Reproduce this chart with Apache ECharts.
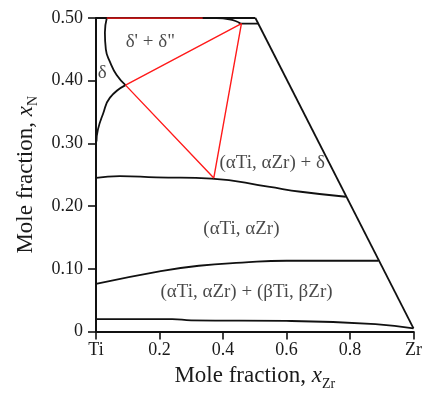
<!DOCTYPE html>
<html>
<head>
<meta charset="utf-8">
<script src="https://cdn.jsdelivr.net/npm/echarts@6/dist/echarts.min.js"></script>
<style>
  html, body { margin: 0; padding: 0; background: #fff; }
  #chart { width: 425px; height: 396px; }
</style>
</head>
<body>
<div id="chart"></div>
<script>
// tick labels
const xTickLabels = ['Ti', '0.2', '0.4', '0.6', '0.8', 'Zr'];
const yTickLabels = ['0', '0.10', '0.20', '0.30', '0.40', '0.50'];

// phase boundaries [x_Zr, x_N]
const topEdge = [[0, 0.5], [0.502, 0.5]];
const rightEdge = [[0.502, 0.5], [1.0, 0.005]];
const deltaUpper = [[0.034, 0.5], [0.028, 0.477], [0.031, 0.45], [0.044, 0.43], [0.065, 0.409], [0.093, 0.393]];
const deltaLower = [[0.093, 0.393], [0.044, 0.373], [0.022, 0.347], [0.006, 0.322], [0.0015, 0.303]];
const delta2Edge = [[0.38, 0.5], [0.42, 0.498], [0.445, 0.494], [0.458, 0.491], [0.512, 0.491]];
const alphaDeltaEdge = [[0, 0.245], [0.075, 0.248], [0.19, 0.246], [0.364, 0.244], [0.542, 0.231], [0.645, 0.223], [0.787, 0.215]];
const alphaBetaEdge = [[0, 0.076], [0.2, 0.096], [0.324, 0.105], [0.46, 0.11], [0.6, 0.113], [0.89, 0.113]];
const betaEdge = [[0, 0.02], [0.24, 0.02], [0.3, 0.018], [0.6, 0.017], [0.88, 0.012], [1.0, 0.005]];

// tie lines (red)
const tieTop = [[0.034, 0.5], [0.336, 0.5]];
const tieTriangle = [[0.093, 0.393], [0.458, 0.491], [0.371, 0.245], [0.093, 0.393]];

// region labels
const regionNames = ["δ' + δ\"", 'δ', '(αTi, αZr) + δ', '(αTi, αZr)', '(αTi, αZr) + (βTi, βZr)'];
const regionPos = [[0.171, 0.462], [0.02, 0.412], [0.555, 0.269], [0.458, 0.164], [0.474, 0.063]];

const font = 'Liberation Serif';
const chart = echarts.init(document.getElementById('chart'));

const blackLine = (data) => ({
  type: 'line', data: data, smooth: true, symbol: 'none',
  lineStyle: { color: '#111', width: 1.8 }, silent: true
});
const redLine = (data) => ({
  type: 'line', data: data, smooth: false, symbol: 'none',
  lineStyle: { color: '#ff1a1a', width: 1.4 }, silent: true, z: 3
});

const nameRich = {
  a: { fontFamily: font, fontSize: 23, color: '#1a1a1a', lineHeight: 30 },
  i: { fontFamily: font, fontSize: 23, fontStyle: 'italic', color: '#1a1a1a', lineHeight: 30 },
  s: { fontFamily: font, fontSize: 14, color: '#1a1a1a', lineHeight: 30, verticalAlign: 'bottom' }
};

chart.setOption({
  animation: false,
  grid: { left: 96, right: 8, top: 18, bottom: 55, containLabel: false },
  xAxis: {
    type: 'value', min: 0, max: 1, interval: 0.2,
    name: '{a|Mole fraction, }{i|x}{s|Zr}',
    nameLocation: 'middle', nameGap: 29,
    nameTextStyle: { rich: nameRich },
    axisLine: { lineStyle: { color: '#111', width: 2 } },
    axisTick: { length: 8, lineStyle: { color: '#111', width: 1.6 } },
    axisLabel: {
      margin: 10, fontFamily: font, fontSize: 18, color: '#1a1a1a',
      formatter: v => xTickLabels[Math.round(v / 0.2)]
    },
    splitLine: { show: false }
  },
  yAxis: {
    type: 'value', min: 0, max: 0.5, interval: 0.1,
    name: '{a|Mole fraction, }{i|x}{s|N}',
    nameLocation: 'middle', nameGap: 55,
    nameTextStyle: { rich: nameRich },
    axisLine: { lineStyle: { color: '#111', width: 2 } },
    axisTick: { length: 8, lineStyle: { color: '#111', width: 1.6 } },
    axisLabel: {
      margin: 13, fontFamily: font, fontSize: 18, color: '#1a1a1a',
      formatter: v => yTickLabels[Math.round(v / 0.1)]
    },
    splitLine: { show: false }
  },
  series: [
    blackLine(topEdge),
    blackLine(rightEdge),
    blackLine(deltaUpper),
    blackLine(deltaLower),
    blackLine(delta2Edge),
    blackLine(alphaDeltaEdge),
    blackLine(alphaBetaEdge),
    blackLine(betaEdge),
    redLine(tieTop),
    redLine(tieTriangle),
    {
      type: 'scatter', symbolSize: 0, silent: true,
      data: regionNames.map((n, i) => ({ name: n, value: regionPos[i] })),
      label: {
        show: true, position: 'inside', formatter: '{b}',
        fontFamily: font, fontSize: 19, color: '#1a1a1a'
      }
    }
  ]
});
</script>
</body>
</html>
